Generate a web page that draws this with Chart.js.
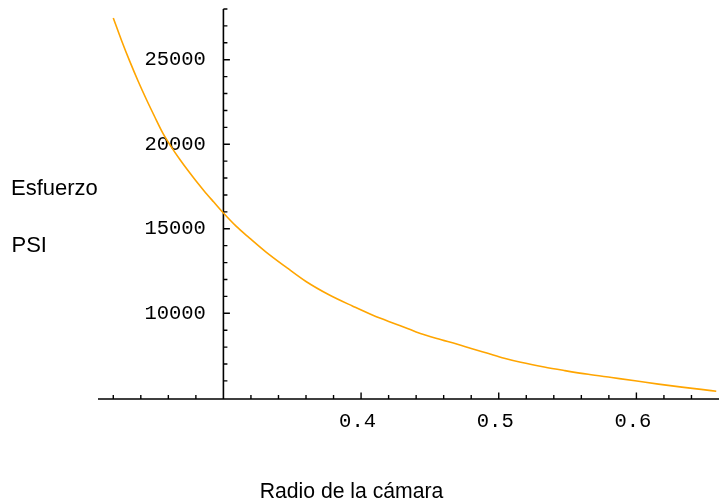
<!DOCTYPE html>
<html>
<head>
<meta charset="utf-8">
<script src="https://cdn.jsdelivr.net/npm/chart.js@4/dist/chart.umd.min.js"></script>
<style>
  html, body { margin: 0; padding: 0; background: #fff; }
  canvas { display: block; }
</style>
</head>
<body>
<canvas id="stressChart" width="719" height="501"></canvas>
<script>
// chamber radius (in) vs. stress (psi)
const radius = [
  0.220, 0.226, 0.232, 0.238, 0.244, 0.250, 0.256, 0.262, 0.268, 0.274,
  0.280, 0.286, 0.293, 0.300, 0.309, 0.319, 0.331, 0.346, 0.360, 0.377,
  0.394, 0.409, 0.426, 0.440, 0.455, 0.470, 0.480, 0.492, 0.504, 0.516,
  0.533, 0.548, 0.565, 0.582, 0.599, 0.616, 0.633, 0.647, 0.658
];
const stress = [
  27470, 26140, 24900, 23740, 22660, 21640, 20660, 19860, 19140, 18470,
  17840, 17240, 16580, 15930, 15170, 14450, 13620, 12700, 11880, 11080,
  10420, 9870, 9340, 8900, 8510, 8170, 7920, 7630, 7340, 7100,
  6820, 6610, 6390, 6200, 6010, 5810, 5630, 5500, 5390
];

// axes cross here
const originX = 0.3;
const originY = 4930;

const xMajorTicks = [0.4, 0.5, 0.6];
const xTickLabels = ["0.4", "0.5", "0.6"];
const xMinorTicks = [
  0.22, 0.24, 0.26, 0.28, 0.32, 0.34, 0.36, 0.38, 0.42, 0.44,
  0.46, 0.48, 0.52, 0.54, 0.56, 0.58, 0.62, 0.64
];

const yMajorTicks = [10000, 15000, 20000, 25000];
const yTickLabels = ["10000", "15000", "20000", "25000"];
const yMinorTicks = [
  6000, 7000, 8000, 9000, 11000, 12000, 13000, 14000, 16000, 17000,
  18000, 19000, 21000, 22000, 23000, 24000, 26000, 27000, 28000
];

const xTitle = "Radio de la cámara";
const yTitle = ["Esfuerzo", "PSI"];

// Axes through the origin with inward tick marks, drawn from the chart's scales
const crossedAxes = {
  id: "crossedAxes",
  beforeDatasetsDraw(chart) {
    const { ctx, chartArea, scales: { x, y } } = chart;
    const ax = x.getPixelForValue(originX);
    const ay = y.getPixelForValue(originY);

    ctx.save();
    ctx.strokeStyle = "#000";
    ctx.lineWidth = 1.6;
    ctx.beginPath();
    ctx.moveTo(chartArea.left, ay);
    ctx.lineTo(chartArea.right, ay);
    ctx.moveTo(ax, y.getPixelForValue(y.max));
    ctx.lineTo(ax, ay);
    ctx.stroke();

    ctx.lineWidth = 1.4;
    ctx.beginPath();
    xMinorTicks.forEach((v) => {
      const px = x.getPixelForValue(v);
      ctx.moveTo(px, ay);
      ctx.lineTo(px, ay - 4);
    });
    xMajorTicks.forEach((v) => {
      const px = x.getPixelForValue(v);
      ctx.moveTo(px, ay);
      ctx.lineTo(px, ay - 6.5);
    });
    yMinorTicks.forEach((v) => {
      const py = y.getPixelForValue(v);
      ctx.moveTo(ax, py);
      ctx.lineTo(ax + 4, py);
    });
    yMajorTicks.forEach((v) => {
      const py = y.getPixelForValue(v);
      ctx.moveTo(ax, py);
      ctx.lineTo(ax + 6.5, py);
    });
    ctx.stroke();

    ctx.fillStyle = "#000";
    ctx.textBaseline = "alphabetic";
    ctx.font = '20.5px "Liberation Mono"';
    ctx.textAlign = "center";
    xMajorTicks.forEach((v, i) => {
      ctx.fillText(xTickLabels[i], x.getPixelForValue(v) - 3.5, ay + 27.5);
    });
    ctx.textAlign = "right";
    yMajorTicks.forEach((v, i) => {
      ctx.fillText(yTickLabels[i], ax - 17.5, y.getPixelForValue(v) + 5.5);
    });

    ctx.font = '22px "Liberation Sans"';
    ctx.textAlign = "left";
    ctx.fillText(yTitle[0], 11, 195);
    ctx.fillText(yTitle[1], 11.5, 251.5);
    ctx.font = '21.2px "Liberation Sans"';
    ctx.textAlign = "center";
    ctx.fillText(xTitle, 351.5, 498);
    ctx.restore();
  },
};

new Chart(document.getElementById("stressChart"), {
  type: "line",
  data: {
    datasets: [
      {
        data: radius.map((r, i) => ({ x: r, y: stress[i] })),
        borderColor: "rgb(255, 165, 0)",
        borderWidth: 1.6,
        pointRadius: 0,
        fill: false,
        cubicInterpolationMode: "monotone",
      },
    ],
  },
  options: {
    responsive: false,
    animation: false,
    layout: { padding: { left: 98, right: 0, top: 9, bottom: 102 } },
    plugins: {
      legend: { display: false },
      tooltip: { enabled: false },
    },
    scales: {
      x: { type: "linear", min: 0.2089, max: 0.66, display: false },
      y: { type: "linear", min: originY, max: 28000, display: false },
    },
  },
  plugins: [crossedAxes],
});
</script>
</body>
</html>
